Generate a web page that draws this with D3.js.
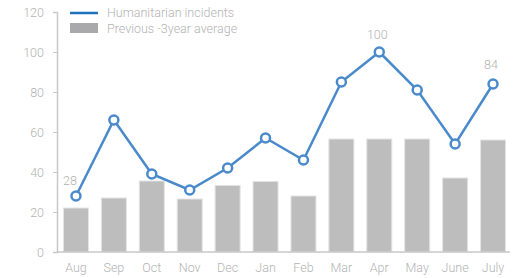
<!DOCTYPE html>
<html><head><meta charset="utf-8">
<script src="https://cdn.jsdelivr.net/npm/d3@7"></script>
<style>body{margin:0;background:#fff}svg{display:block}text{font-family:Roboto,sans-serif;font-weight:300}</style>
</head><body><svg id="c" width="519" height="278"></svg>
<script>
const months = ["Aug","Sep","Oct","Nov","Dec","Jan","Feb","Mar","Apr","May","June","July"];
const incidents = [28,66,39,31,42,57,46,85,100,81,54,84];
const average = [22,27,35.5,26.5,33.3,35.3,28,56.5,56.5,56.5,37,56];
const labeled = ["Aug","Apr","July"];
const yTicks = [0,20,40,60,80,100,120];

const svg = d3.select("#c");
const x = d3.scaleBand().domain(months).range([57,512]).paddingInner(0.34).paddingOuter(0.17);
const y = d3.scaleLinear().domain([0,120]).range([252,12]);
const textCol = "#b3b3b3";

// y axis
const ya = svg.append("g").attr("transform","translate(57,0)").call(d3.axisLeft(y).tickValues(yTicks).tickSize(4).tickPadding(9));
ya.select(".domain").attr("stroke","#c8c8c8").attr("stroke-width",1.5);
ya.selectAll(".tick line").attr("stroke","#c8c8c8");
ya.selectAll(".tick text").attr("fill",textCol).style("font-size","12.5px").style("font-family","Roboto").style("font-weight",300);

// bars
svg.append("g").selectAll("rect").data(months).join("rect")
  .attr("x",d=>x(d)).attr("width",x.bandwidth())
  .attr("y",(d,i)=>y(average[i])).attr("height",(d,i)=>y(0)-y(average[i]))
  .attr("fill","#bdbdbd").attr("stroke","#e4e4e4").attr("stroke-width",1);

// x axis
const xa = svg.append("g").attr("transform","translate(0,252)").call(d3.axisBottom(x).tickSize(0).tickPadding(11));
xa.select(".domain").attr("stroke","#c8c8c8").attr("stroke-width",1.5).attr("d","M57,0H510");
xa.selectAll(".tick text").attr("fill",textCol).style("font-size","12.5px").style("font-family","Roboto").style("font-weight",300);

// line
const cx = d=>x(d)+x.bandwidth()/2;
svg.append("path").datum(months)
  .attr("d",d3.line().x(d=>cx(d)).y((d,i)=>y(incidents[i])))
  .attr("fill","none").attr("stroke","#4a8acb").attr("stroke-width",2.5);
svg.append("g").selectAll("circle").data(months).join("circle")
  .attr("cx",cx).attr("cy",(d,i)=>y(incidents[i])).attr("r",4.5)
  .attr("fill","#fff").attr("stroke","#4a8acb").attr("stroke-width",2.5);
const labelShift = {Aug:[-6,-1], Apr:[-2,1], July:[-2,3]};
svg.append("g").selectAll("text").data(labeled).join("text")
  .attr("x",d=>cx(d)+labelShift[d][0]).attr("y",d=>y(incidents[months.indexOf(d)])-12-labelShift[d][1])
  .attr("text-anchor","middle").attr("fill",textCol).style("font-size","12.5px")
  .text(d=>incidents[months.indexOf(d)]);

// legend
const lg = svg.append("g");
lg.append("line").attr("x1",70).attr("x2",98).attr("y1",13).attr("y2",13).attr("stroke","#1f6fbf").attr("stroke-width",2.5);
lg.append("text").attr("x",107).attr("y",17).attr("fill",textCol).style("font-size","12.5px").text("Humanitarian incidents");
lg.append("rect").attr("x",70).attr("y",23).attr("width",28).attr("height",10).attr("fill","#a9a9ab");
lg.append("text").attr("x",107).attr("y",33).attr("fill",textCol).style("font-size","12.5px").text("Previous -3year average");
</script></body></html>
